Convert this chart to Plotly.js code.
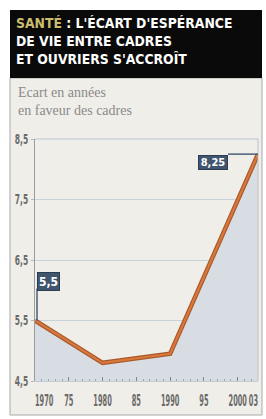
<!DOCTYPE html>
<html>
<head>
<meta charset="utf-8">
<script src="https://cdn.plot.ly/plotly-3.0.1.min.js"></script>
<style>
  html, body { margin: 0; padding: 0; background: #ffffff; }
  #chart { width: 266px; height: 419px; }
</style>
</head>
<body>
<div id="chart"></div>
<script>
// ---- data ----
const years = [1970, 1980, 1990, 2003];
const gap = [5.5, 4.8, 4.95, 8.25];          // écart en années en faveur des cadres
const xTickVals = [1970, 1975, 1980, 1985, 1990, 1995, 2000, 2003];
const xTickText = ["1970", "75", "1980", "85", "1990", "95", "2000", "03"];
const yTickVals = [4.5, 5.5, 6.5, 7.5, 8.5];
const yTickText = ["4,5", "5,5", "6,5", "7,5", "8,5"];
const titleLines = ["SANTÉ", " : L'ÉCART D'ESPÉRANCE", "DE VIE ENTRE CADRES", "ET OUVRIERS S'ACCROÎT"];
const subtitleLines = ["Ecart en années", "en faveur des cadres"];

// ---- layout helpers (pixel -> paper) ----
const W = 266, H = 419;
const L = 35, R = 258, T = 139, B = 381;
const xp = px => (px - L) / (R - L);
const yp = py => (B - py) / (B - T);
const fmt = v => String(v).replace('.', ',');

const condensed = '"Liberation Sans Narrow", "DejaVu Sans Condensed", "Arial Narrow", sans-serif';

const first = 0, last = years.length - 1;

const traces = [
  { // fill + dark edge of the line
    x: years, y: gap, type: 'scatter', mode: 'lines',
    fill: 'tozeroy', fillcolor: '#d8dde4',
    line: { color: '#a9582a', width: 4.5 },
    hoverinfo: 'skip', showlegend: false
  },
  { // main line
    x: years, y: gap, type: 'scatter', mode: 'lines',
    line: { color: '#d8783c', width: 2.2 },
    hoverinfo: 'skip', showlegend: false
  }
];

const layout = {
  width: W, height: H,
  margin: { l: L, r: W - R, t: T, b: H - B, pad: 0 },
  paper_bgcolor: '#ffffff',
  plot_bgcolor: '#f0eee9',
  showlegend: false,
  xaxis: {
    range: [1970, 2003],
    tickvals: xTickVals, ticktext: xTickText,
    ticks: 'inside', ticklen: 4, tickcolor: '#7d8a96', tickwidth: 1,
    minor: { dtick: 1, ticks: 'inside', ticklen: 2, tickcolor: '#9aa5af' },
    showgrid: false, zeroline: false,
    showline: true, linecolor: '#c3ccd4', linewidth: 1,
    tickfont: { family: condensed, size: 16, color: '#6a6a6a', weight: 'bold' },
    tickangle: 0,
    ticklabelstandoff: 5,
    ticklabeloverflow: 'allow',
    fixedrange: true
  },
  yaxis: {
    range: [4.5, 8.5],
    tickvals: yTickVals, ticktext: yTickText,
    ticks: 'outside', ticklen: 3, tickcolor: '#b0bac3',
    ticklabelstandoff: 0,
    showgrid: true, gridcolor: '#c6d3dd', gridwidth: 1,
    zeroline: false,
    showline: true, linecolor: '#9c9c9c', linewidth: 1,
    tickfont: { family: condensed, size: 14, color: '#6a6a6a', weight: 'bold' },
    fixedrange: true
  },
  shapes: [
    { // panel
      type: 'rect', xref: 'paper', yref: 'paper', layer: 'below',
      x0: xp(10), x1: xp(262), y0: yp(415), y1: yp(78),
      fillcolor: '#f0eee9', line: { color: '#a8a8a8', width: 1 }
    },
    { // title box
      type: 'rect', xref: 'paper', yref: 'paper', layer: 'above',
      x0: xp(10), x1: xp(262), y0: yp(78), y1: yp(10),
      fillcolor: '#0a0a0a', line: { width: 0 }
    },
    { // top border of plot
      type: 'line', xref: 'paper', yref: 'paper', layer: 'above',
      x0: 0, x1: 1, y0: 1, y1: 1, line: { color: '#b9c6d1', width: 1 }
    },
    { // right border of plot
      type: 'line', xref: 'paper', yref: 'paper', layer: 'above',
      x0: 1, x1: 1, y0: 0, y1: 1, line: { color: '#b9c1c8', width: 1 }
    },
    { // connector to first value box (vertical)
      type: 'line', xref: 'x', yref: 'y', layer: 'above',
      xsizemode: 'pixel', xanchor: years[first], x0: 2, x1: 2,
      ysizemode: 'pixel', yanchor: gap[first], y0: 0, y1: 32,
      line: { color: '#4a6078', width: 1.5 }
    },
    { // connector to last value box (horizontal)
      type: 'line', xref: 'x', yref: 'y', layer: 'above',
      xsizemode: 'pixel', xanchor: years[last], x0: 0, x1: -30,
      ysizemode: 'pixel', yanchor: gap[last], y0: 0, y1: 0,
      line: { color: '#4a6078', width: 1.5 }
    }
  ],
  annotations: [
    { // title
      xref: 'paper', yref: 'paper', x: xp(14), y: yp(13),
      xanchor: 'left', yanchor: 'top', align: 'left', showarrow: false,
      text: '<span style="color:#cbbd6e">' + titleLines[0] + '</span>' + titleLines[1] +
            '<br>' + titleLines[2] + '<br>' + titleLines[3],
      font: { family: '"DejaVu Sans Condensed", "Liberation Sans Narrow", sans-serif', size: 13.8, color: '#ffffff', weight: 'bold' }
    },
    { // subtitle
      xref: 'paper', yref: 'paper', x: xp(16), y: yp(83),
      xanchor: 'left', yanchor: 'top', align: 'left', showarrow: false,
      text: subtitleLines.join('<br>'),
      font: { family: '"Liberation Serif", "DejaVu Serif", serif', size: 14, color: '#8a8a8a' }
    },
    { // first value box
      xref: 'x', yref: 'y', x: years[first], y: gap[first],
      xanchor: 'center', yanchor: 'middle', xshift: 13.5, yshift: 39,
      showarrow: false, text: fmt(gap[first]),
      width: 19, height: 15, borderpad: 1,
      bgcolor: '#40566e', bordercolor: '#2c3d51', borderwidth: 1,
      font: { family: condensed, size: 12, color: '#ffffff', weight: 'bold' }
    },
    { // last value box
      xref: 'x', yref: 'y', x: years[last], y: gap[last],
      xanchor: 'center', yanchor: 'middle', xshift: -45, yshift: -8,
      showarrow: false, text: fmt(gap[last]),
      width: 26, height: 11, borderpad: 1,
      bgcolor: '#40566e', bordercolor: '#2c3d51', borderwidth: 1,
      font: { family: condensed, size: 11, color: '#ffffff', weight: 'bold' }
    }
  ]
};

// Squeeze tick labels horizontally to imitate the narrow newspaper typeface
function narrowTicks(gd) {
  const squeeze = (sel, factor, anchorFn) => {
    const nodes = gd.querySelectorAll(sel);
    nodes.forEach((t, i) => {
      const len = t.getComputedTextLength();
      if (!len) return;
      t.setAttribute('textLength', (len * factor).toFixed(2));
      t.setAttribute('lengthAdjust', 'spacingAndGlyphs');
      if (anchorFn) {
        const a = anchorFn(i, nodes.length);
        if (a) t.setAttribute('text-anchor', a);
      }
    });
  };
  squeeze('.xtick text', 0.46, (i, n) => i === 0 ? 'start' : (i === n - 1 ? 'end' : null));
  squeeze('.ytick text', 0.6, null);
}

Plotly.newPlot('chart', traces, layout, { staticPlot: true, displayModeBar: false })
  .then(narrowTicks);
</script>
</body>
</html>
